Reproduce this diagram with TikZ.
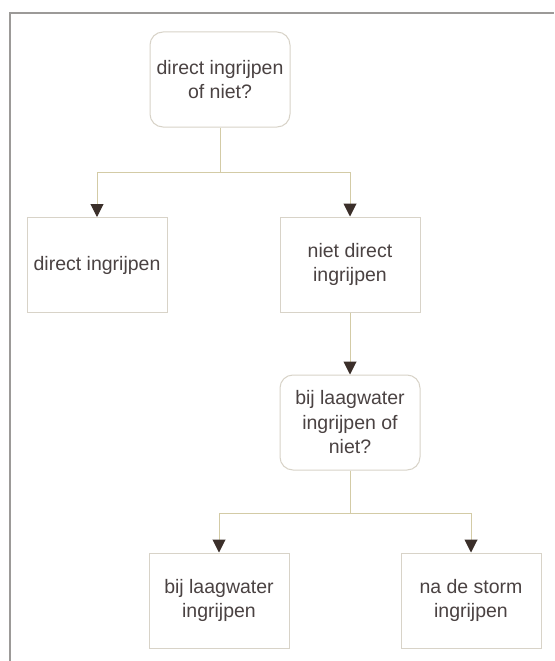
\documentclass[tikz,border=0pt]{standalone}
\usepackage{fontspec}
\setmainfont{Liberation Sans}
\usepackage{tikz}
\usetikzlibrary{arrows.meta}

\definecolor{framegray}{HTML}{9C9A98}
\definecolor{boxline}{HTML}{D8D3C8}
\definecolor{linkline}{HTML}{D3CBA6}
\definecolor{tipbrown}{HTML}{3B2F2A}
\definecolor{txtgray}{HTML}{4A4242}

\begin{document}
\begin{tikzpicture}[x=1pt,y=-1pt,
  font=\fontsize{19.5}{24.5}\selectfont,
  box/.style={draw=boxline, line width=1pt, text=txtgray, align=center,
    minimum width=140pt, minimum height=95pt, inner sep=0pt},
  question/.style={box, rounded corners=13pt},
  link/.style={draw=linkline, line width=1pt},
  arr/.style={link, -{Triangle[width=13pt,length=13pt,color=tipbrown]}}]

\useasboundingbox (0,0) rectangle (554,661);
\fill[white] (0,0) rectangle (554,661);

% frame
\draw[framegray, line width=2pt] (10,661) -- (10,13) -- (554,13);

\node[question] (ingrijpen) at (220,79.5) {direct ingrijpen\\of niet?};
\node[box] (direct) at (97,265) {direct ingrijpen};
\node[box] (nietdirect) at (350,264.5) {niet direct\\ingrijpen};
\node[question] (laagwater) at (350,422.5) {bij laagwater\\ingrijpen of\\niet?};
\node[box] (bijlaag) at (219,600.5) {bij laagwater\\ingrijpen};
\node[box] (storm) at (471,600.5) {na de storm\\ingrijpen};

\coordinate (split1) at (220,172);
\coordinate (split2) at (350,513);

\path[link] (ingrijpen) -- (split1);
\path[arr] (split1) -| (direct);
\path[arr] (split1) -| (nietdirect);

\path[arr] (nietdirect) -- (laagwater);

\path[link] (laagwater) -- (split2);
\path[arr] (split2) -| (bijlaag);
\path[arr] (split2) -| (storm);

\end{tikzpicture}
\end{document}
